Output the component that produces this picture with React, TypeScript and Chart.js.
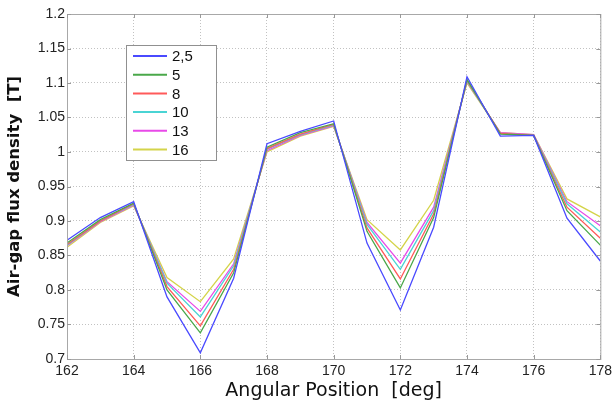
import React, { useEffect, useRef } from "react";
import { Chart, registerables } from "chart.js";

Chart.register(...registerables);

const angles = [162, 163, 164, 165, 166, 167, 168, 169, 170, 171, 172, 173, 174, 175, 176, 177, 178];
const seriesLabels = ["2,5", "5", "8", "10", "13", "16"];
const s25 = [0.872, 0.905, 0.928, 0.79, 0.709, 0.817, 1.012, 1.03, 1.045, 0.868, 0.771, 0.891, 1.109, 1.023, 1.024, 0.904, 0.842];
const s5 = [0.868, 0.902, 0.926, 0.8, 0.738, 0.825, 1.007, 1.028, 1.041, 0.885, 0.803, 0.905, 1.105, 1.026, 1.024, 0.915, 0.865];
const s8 = [0.866, 0.9, 0.925, 0.805, 0.748, 0.83, 1.005, 1.026, 1.04, 0.89, 0.816, 0.91, 1.104, 1.027, 1.024, 0.92, 0.875];
const s10 = [0.865, 0.9, 0.924, 0.81, 0.761, 0.835, 1.004, 1.025, 1.039, 0.895, 0.83, 0.915, 1.103, 1.027, 1.024, 0.925, 0.884];
const s13 = [0.864, 0.899, 0.923, 0.812, 0.769, 0.838, 1.002, 1.024, 1.038, 0.898, 0.839, 0.92, 1.102, 1.028, 1.025, 0.928, 0.893];
const s16 = [0.862, 0.898, 0.922, 0.818, 0.783, 0.845, 1.0, 1.023, 1.037, 0.902, 0.858, 0.93, 1.1, 1.028, 1.025, 0.932, 0.906];
const seriesValues = [s25, s5, s8, s10, s13, s16];
const seriesColors = ["#4a4aff", "#4aa84a", "#ff5a5a", "#4ad4d4", "#e84ae8", "#d4d44a"];

const FONT = "'DejaVu Sans', sans-serif";
const TICKFONT = "'Liberation Sans', sans-serif";

const framePlugin = {
  id: "frame",
  afterDraw(chart: any) {
    const { ctx, chartArea: a } = chart;
    ctx.save();
    ctx.strokeStyle = "#a8a8a8";
    ctx.lineWidth = 1;
    ctx.strokeRect(a.left + 0.5, a.top + 0.5, a.right - a.left, a.bottom - a.top);
    const xs = chart.scales.x;
    const ys = chart.scales.y;
    ctx.strokeStyle = "#999";
    xs.ticks.forEach((t: any) => {
      const px = Math.round(xs.getPixelForValue(t.value)) + 0.5;
      ctx.beginPath();
      ctx.moveTo(px, a.bottom);
      ctx.lineTo(px, a.bottom - 4);
      ctx.moveTo(px, a.top);
      ctx.lineTo(px, a.top + 4);
      ctx.stroke();
    });
    ys.ticks.forEach((t: any) => {
      const py = Math.round(ys.getPixelForValue(t.value)) + 0.5;
      ctx.beginPath();
      ctx.moveTo(a.left, py);
      ctx.lineTo(a.left + 4, py);
      ctx.moveTo(a.right, py);
      ctx.lineTo(a.right - 4, py);
      ctx.stroke();
    });
    const lx = a.left + 59;
    const ly = a.top + 31;
    const lw = 90;
    const lh = 115;
    ctx.fillStyle = "#ffffff";
    ctx.fillRect(lx, ly, lw, lh);
    ctx.strokeStyle = "#909090";
    ctx.lineWidth = 1;
    ctx.strokeRect(lx + 0.5, ly + 0.5, lw, lh);
    ctx.font = "15px " + TICKFONT;
    ctx.textBaseline = "middle";
    seriesLabels.forEach((lab, i) => {
      const y = ly + 11 + i * 18.7;
      ctx.strokeStyle = seriesColors[i];
      ctx.lineWidth = 2;
      ctx.beginPath();
      ctx.moveTo(lx + 7, y);
      ctx.lineTo(lx + 41, y);
      ctx.stroke();
      ctx.fillStyle = "#111";
      ctx.fillText(lab, lx + 46, y + 1);
    });
    ctx.restore();
  },
};

export default function App() {
  const ref = useRef<HTMLCanvasElement>(null);
  useEffect(() => {
    document.body.style.margin = "0";
    const datasets = seriesLabels.map((lab, i) => ({
      label: lab,
      data: angles.map((x, j) => ({ x, y: seriesValues[i][j] })),
      borderColor: seriesColors[i],
      backgroundColor: seriesColors[i],
      borderWidth: 1.3,
      pointRadius: 0,
      tension: 0,
      fill: false,
    }));
    const chart = new Chart(ref.current!, {
      type: "line",
      data: { datasets },
      options: {
        responsive: false,
        animation: false,
        layout: { padding: { top: 14, right: 14, left: 0, bottom: 0 } },
        plugins: { legend: { display: false }, tooltip: { enabled: false } },
        scales: {
          x: {
            type: "linear",
            min: 162,
            max: 178,
            ticks: {
              stepSize: 2,
              color: "#222",
              font: { family: TICKFONT, size: 14 },
              padding: 4,
              maxRotation: 0,
            },
            grid: { color: "#c2c2c2", drawTicks: false, lineWidth: 1 },
            border: { display: false, dash: [1, 2] },
            title: {
              display: true,
              text: "Angular Position  [deg]",
              color: "#111",
              font: { family: FONT, size: 19 },
              padding: { top: 2, bottom: 5 },
            },
            afterFit(scale: any) {
              scale.height = 48;
            },
          },
          y: {
            min: 0.7,
            max: 1.2,
            ticks: {
              stepSize: 0.05,
              color: "#222",
              font: { family: TICKFONT, size: 14 },
              padding: 2,
              callback: (v: any) => String(Number(Number(v).toFixed(2))),
            },
            grid: { color: "#c2c2c2", drawTicks: false, lineWidth: 1 },
            border: { display: false, dash: [1, 2] },
            title: {
              display: true,
              text: "Air-gap flux density  [T]",
              color: "#111",
              font: { family: FONT, size: 16.5, weight: "bold" },
              padding: { top: 5, bottom: 0 },
            },
            afterFit(scale: any) {
              scale.width = 67;
            },
          },
        },
      },
      plugins: [framePlugin],
    } as any);
    return () => chart.destroy();
  }, []);
  return (
    <div style={{ position: "absolute", left: 0, top: 0, width: 616, height: 407, background: "#fff" }}>
      <canvas ref={ref} width={616} height={407} style={{ width: 616, height: 407 }} />
    </div>
  );
}
